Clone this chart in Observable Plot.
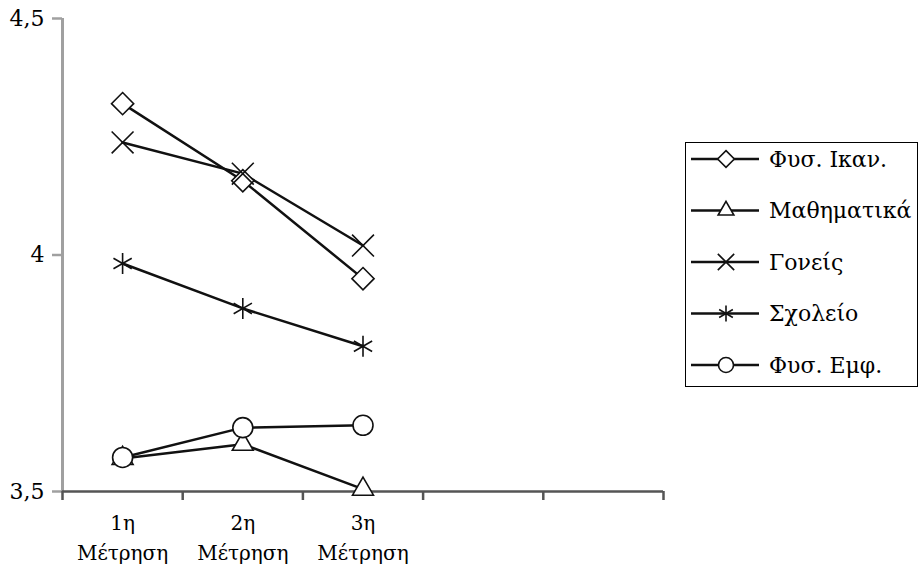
<!DOCTYPE html>
<html><head><meta charset="utf-8">
<script src="https://cdn.jsdelivr.net/npm/d3@7"></script>
<script src="https://cdn.jsdelivr.net/npm/@observablehq/plot@0.6"></script>
<style>
body{margin:0;background:#fff;font-family:"DejaVu Serif",serif;}
#wrap{position:relative;width:919px;height:571px;}
#legend{position:absolute;left:685px;top:142px;width:233px;height:245px;border:1.5px solid #000;box-sizing:border-box;background:#fff}
#legend text{font-family:"DejaVu Serif",serif;}
</style></head><body><div id="wrap"></div>
<script>
const categories = ["1η\nΜέτρηση", "2η\nΜέτρηση", "3η\nΜέτρηση"];
const slots = 5; // category slots on the x axis (two left empty)
const series = ["Φυσ. Ικαν.", "Μαθηματικά", "Γονείς", "Σχολείο", "Φυσ. Εμφ."];
const symbols = ["diamond2", "triangle2", "times", "asterisk", "circle"];
const fysIkan = [4.32, 4.157, 3.95];
const mathimatika = [3.57, 3.60, 3.505];
const goneis = [4.238, 4.172, 4.02];
const sxoleio = [3.982, 3.887, 3.807];
const fysEmf = [3.572, 3.635, 3.64];
const yTicks = [3.5, 4, 4.5];

const values = [fysIkan, mathimatika, goneis, sxoleio, fysEmf];
const data = [];
series.forEach((s, k) => values[k].forEach((v, i) => data.push({series: s, slot: i + 0.5, value: v})));

const plot = Plot.plot({
  width: 919, height: 571,
  marginLeft: 62, marginRight: 256, marginTop: 18, marginBottom: 80,
  style: {fontFamily: "DejaVu Serif", background: "white"},
  x: {domain: [0, slots]},
  y: {domain: [3.5, 4.5]},
  symbol: {domain: series, range: symbols},
  marks: [
    Plot.ruleX([0], {stroke: "#a0a0a0", strokeWidth: 3}),
    Plot.axisY({ticks: yTicks, tickFormat: d => String(d).replace(".", ","), tickSize: 10, tickPadding: 8,
      fontSize: 22, stroke: "#a0a0a0", strokeWidth: 2.5, fill: "#000", label: null}),
    Plot.ruleY([3.5], {stroke: "#555", strokeWidth: 2.5}),
    Plot.axisX({ticks: d3.range(slots + 1), tickFormat: () => "", tickSize: 9, stroke: "#555", strokeWidth: 2.5, label: null}),
    Plot.axisX({ticks: categories.map((_, i) => i + 0.5), tickFormat: t => categories[Math.floor(t)],
      tickSize: 0, tickPadding: 17, fontSize: 20, lineHeight: 1.5, fill: "#000", label: null}),
    Plot.line(data, {x: "slot", y: "value", z: "series", stroke: "#111", strokeWidth: 2.5}),
    Plot.dot(data, {x: "slot", y: "value", symbol: "series", stroke: "#111", fill: "white", r: 10, strokeWidth: 1.6})
  ]
});
const wrap = document.getElementById("wrap");
wrap.appendChild(plot);

// legend
const leg = d3.select(wrap).append("div").attr("id", "legend");
const svg = leg.append("svg").attr("width", 231).attr("height", 242);
const symMap = {diamond2: d3.symbolDiamond2, triangle2: d3.symbolTriangle2, times: d3.symbolTimes, asterisk: d3.symbolAsterisk, circle: d3.symbolCircle};
series.forEach((s, i) => {
  const g = svg.append("g").attr("transform", `translate(0,${16 + i * 51.5})`);
  g.append("line").attr("x1", 5).attr("x2", 73).attr("stroke", "#111").attr("stroke-width", 2.5);
  g.append("path").attr("transform", "translate(40,0)")
    .attr("d", d3.symbol(symMap[symbols[i]], Math.PI * 7.5 * 7.5)())
    .attr("fill", "white").attr("stroke", "#111").attr("stroke-width", 1.6);
  g.append("text").attr("x", 83).attr("y", 0).attr("dy", "0.35em")
    .attr("font-size", 22).text(s);
});
</script>
</body></html>
